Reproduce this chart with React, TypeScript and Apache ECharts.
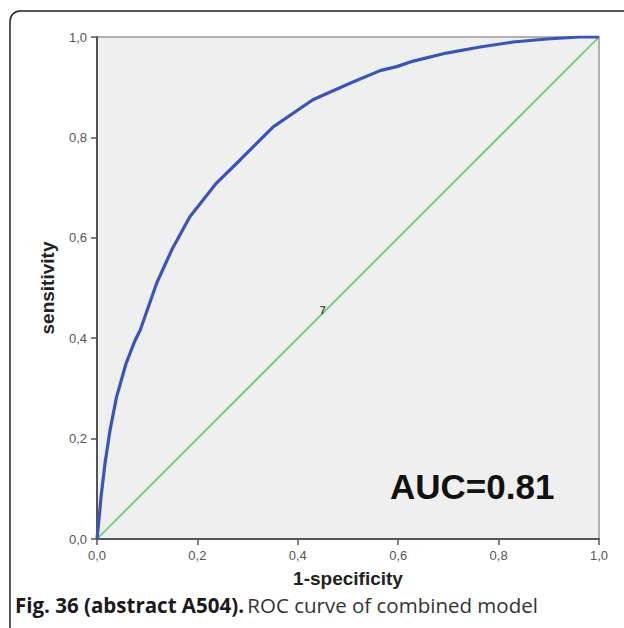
import React, { useEffect, useRef } from "react";
import * as echarts from "echarts";

const fpr = [0, 0.004, 0.008, 0.016, 0.026, 0.039, 0.058, 0.076, 0.086, 0.119, 0.149, 0.185, 0.238, 0.285, 0.351, 0.43, 0.504, 0.564, 0.597, 0.63, 0.696, 0.763, 0.829, 0.896, 0.962, 1];
const tpr = [0, 0.04, 0.084, 0.151, 0.217, 0.283, 0.35, 0.396, 0.416, 0.51, 0.576, 0.642, 0.709, 0.755, 0.821, 0.875, 0.908, 0.933, 0.941, 0.952, 0.968, 0.98, 0.99, 0.996, 1.0, 1];
const refX = [0, 1];
const refY = [0, 1];
const markerLabel = "7";
const markerPos = [0.45, 0.456];
const aucText = "AUC=0.81";
const xName = "1-specificity";
const yName = "sensitivity";
const captionBold = "Fig. 36 (abstract A504).";
const captionRest = "ROC curve of combined model";

export default function App() {
  const ref = useRef<HTMLDivElement>(null);
  useEffect(() => {
    if (!ref.current) return;
    const chart = echarts.init(ref.current, null, { renderer: "svg" });
    const fmt = (v: number) => v.toFixed(1).replace(".", ",");
    const axisCommon = {
      type: "value" as const,
      min: 0,
      max: 1,
      interval: 0.2,
      nameLocation: "middle" as const,
      nameTextStyle: {
        fontFamily: "Liberation Sans, Arial, sans-serif",
        fontWeight: "bold" as const,
        fontSize: 19,
        color: "#222",
      },
      axisLine: { show: true, lineStyle: { color: "#555", width: 2 } },
      axisTick: { show: true, inside: false, length: 6, lineStyle: { color: "#555", width: 1.5 } },
      axisLabel: {
        formatter: fmt,
        color: "#555",
        fontSize: 13,
        fontFamily: "Liberation Sans, Arial, sans-serif",
        margin: 10,
      },
      splitLine: { show: false },
    };
    chart.setOption({
      animation: false,
      backgroundColor: "#fff",
      grid: {
        left: 97,
        top: 37,
        width: 502,
        height: 502,
        show: true,
        backgroundColor: "#efefef",
        borderColor: "#999",
        borderWidth: 1.5,
      },
      xAxis: { ...axisCommon, name: xName, nameGap: 30 },
      yAxis: { ...axisCommon, name: yName, nameGap: 40 },
      series: [
        {
          type: "line",
          data: refX.map((x, i) => [x, refY[i]]),
          showSymbol: false,
          lineStyle: { color: "#5ecb6e", width: 1.6 },
          z: 2,
        },
        {
          type: "line",
          data: fpr.map((x, i) => [x, tpr[i]]),
          showSymbol: false,
          smooth: false,
          lineStyle: { color: "#3a55b8", width: 3.2 },
          z: 3,
        },
        {
          type: "scatter",
          data: [markerPos],
          symbolSize: 0,
          label: {
            show: true,
            position: "inside",
            formatter: markerLabel,
            fontSize: 11,
            fontWeight: "bold",
            color: "#222",
            fontFamily: "Liberation Sans, Arial, sans-serif",
          },
          z: 4,
        },
      ],
      graphic: [
        {
          type: "rect",
          shape: { x: 10, y: 11, width: 700, height: 700, r: 10 },
          style: { fill: "none", stroke: "#222", lineWidth: 1.5 },
          z: -1,
          silent: true,
        },
        {
          type: "text",
          x: 390,
          y: 486,
          style: {
            text: aucText,
            fontSize: 35,
            fontWeight: "bold",
            fontFamily: "Liberation Sans, Arial, sans-serif",
            fill: "#111",
            verticalAlign: "middle",
          },
        },
        {
          type: "text",
          x: 15,
          y: 605,
          style: {
            text: "{b|" + captionBold + "} {n|" + captionRest + "}",
            verticalAlign: "middle",
            rich: {
              b: { fontFamily: "Open Sans", fontWeight: "bold", fontSize: 20.5, fill: "#1a1a1a" },
              n: { fontFamily: "Open Sans", fontSize: 20.5, fill: "#333" },
            },
          },
        },
      ],
    });
    return () => chart.dispose();
  }, []);
  return <div ref={ref} style={{ position: "fixed", left: 0, top: 0, width: 624, height: 628 }} />;
}
